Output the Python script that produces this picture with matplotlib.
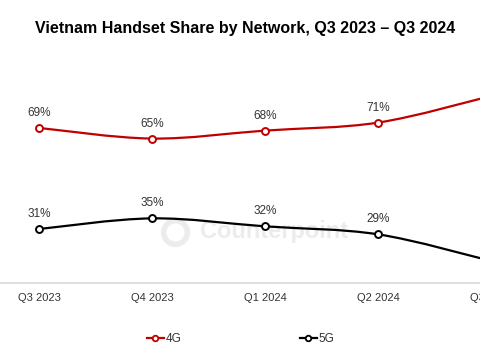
import matplotlib.pyplot as plt
from matplotlib.path import Path
from matplotlib.patches import PathPatch
from matplotlib.lines import Line2D

plt.rcParams['font.family'] = ['Liberation Sans', 'DejaVu Sans']

# data
quarters = ['Q3 2023', 'Q4 2023', 'Q1 2024', 'Q2 2024', 'Q3 2024']
share_4g = [69, 65, 68, 71, 81]
share_5g = [31, 35, 32, 29, 19]

red = '#C00000'
blk = '#000000'


def smooth_path(xs, ys):
    # cubic bezier through the points (catmull-rom style control points)
    pts = list(zip(xs, ys))
    verts = [pts[0]]
    codes = [Path.MOVETO]
    n = len(pts)
    for i in range(n - 1):
        p0 = pts[i - 1] if i > 0 else pts[i]
        p1 = pts[i]
        p2 = pts[i + 1]
        p3 = pts[i + 2] if i + 2 < n else pts[i + 1]
        c1 = (p1[0] + (p2[0] - p0[0]) / 6, p1[1] + (p2[1] - p0[1]) / 6)
        c2 = (p2[0] - (p3[0] - p1[0]) / 6, p2[1] - (p3[1] - p1[1]) / 6)
        verts += [c1, c2, p2]
        codes += [Path.CURVE4] * 3
    return Path(verts, codes)


fig = plt.figure(figsize=(4.8, 3.6), dpi=100)
# axes runs past the right edge, like the cropped original
ax = fig.add_axes([-17.5 / 480, 77 / 360, 565 / 480, 233 / 360])

# faint watermark (logo ring + name)
ax.plot([1.2], [30], marker='o', markersize=17, markerfacecolor='none',
        markeredgecolor='#ececec', markeredgewidth=4, zorder=1)
ax.text(2.08, 30, 'Counterpoint', fontsize=17, fontweight='bold',
        color='#ececec', ha='center', va='center', zorder=1)

x = list(range(len(quarters)))
for vals, col in [(share_4g, red), (share_5g, blk)]:
    ax.add_patch(PathPatch(smooth_path(x, vals), fill=False, edgecolor=col,
                           linewidth=1.6, zorder=2))
    ax.plot(x, vals, linestyle='none', marker='o', markersize=5,
            markerfacecolor='white', markeredgecolor=col, markeredgewidth=1.4,
            zorder=3)
    for xi, v in zip(x, vals):
        ax.annotate(f'{v}%', (xi, v), xytext=(0, 6.5), textcoords='offset points',
                    ha='center', va='bottom', fontsize=8.5, color='#333333')

ax.set_xlim(-0.5, 4.5)
ax.set_ylim(10.7, 98.3)
ax.set_xticks(x)
ax.set_xticklabels(quarters, fontsize=8, color='#333333')
ax.set_yticks([])
ax.tick_params(axis='x', length=0, pad=7)
for s in ['top', 'right', 'left']:
    ax.spines[s].set_visible(False)
ax.spines['bottom'].set_color('#d9d9d9')
ax.spines['bottom'].set_linewidth(1.2)

fig.text(0.51, 1 - 28 / 360, 'Vietnam Handset Share by Network, Q3 2023 \u2013 Q3 2024',
         ha='center', va='center', fontsize=11.5, fontweight='bold')

handles = [
    Line2D([], [], color=red, linewidth=1.6, marker='o', markersize=4,
           markerfacecolor='white', markeredgecolor=red, markeredgewidth=1.3),
    Line2D([], [], color=blk, linewidth=1.6, marker='o', markersize=4,
           markerfacecolor='white', markeredgecolor=blk, markeredgewidth=1.3),
]
fig.legend(handles, ['4G', '5G'], loc='center', bbox_to_anchor=(0.502, 1 - 339 / 360),
           ncol=2, frameon=False, fontsize=8.5, handlelength=1.4, handletextpad=0.2,
           columnspacing=10, labelcolor='#333333')

fig.savefig('out.png', dpi=100)
